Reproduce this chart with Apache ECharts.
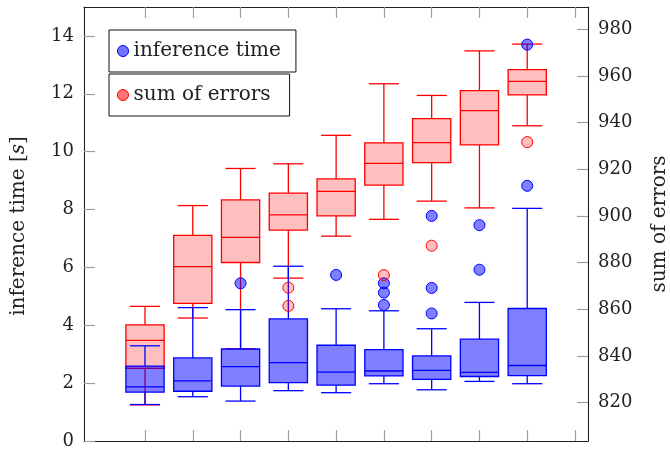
<!DOCTYPE html>
<html>
<head>
<meta charset="utf-8">
<script src="https://cdn.jsdelivr.net/npm/echarts@6/dist/echarts.min.js"></script>
<style>html,body{margin:0;padding:0;background:#fff}#c{width:670px;height:450px}</style>
</head>
<body>
<div id="c"></div>
<script>
// ---- data ----
const positions = [1, 2, 3, 4, 5, 6, 7, 8, 9];
// inference time [s] (left axis)
const timeLow    = [1.26, 1.53, 1.38, 1.74, 1.67, 1.98, 1.77, 2.06, 1.98];
const timeQ1     = [1.69, 1.72, 1.90, 2.02, 1.93, 2.25, 2.13, 2.23, 2.26];
const timeMedian = [1.87, 2.08, 2.57, 2.71, 2.38, 2.42, 2.44, 2.37, 2.61];
const timeQ3     = [2.59, 2.87, 3.18, 4.22, 3.31, 3.16, 2.94, 3.52, 4.58];
const timeHigh   = [3.29, 4.61, 4.54, 6.04, 4.57, 4.50, 3.88, 4.79, 8.04];
const timeOutlierPos = [3, 5, 6, 6, 6, 7, 7, 7, 8, 8, 9, 9];
const timeOutlierVal = [5.45, 5.74, 4.70, 5.13, 5.45, 4.41, 5.29, 7.78, 5.92, 7.46, 8.82, 13.70];
// sum of errors (right axis)
const errLow    = [819.0, 856.2, 843.0, 873.3, 891.3, 898.5, 906.3, 903.4, 938.6];
const errQ1     = [834.6, 862.5, 880.0, 893.9, 900.0, 913.2, 922.8, 930.4, 951.8];
const errMedian = [846.6, 878.2, 890.8, 900.4, 910.5, 922.5, 931.4, 945.1, 957.6];
const errQ3     = [853.3, 891.6, 906.8, 909.7, 915.8, 931.3, 941.7, 953.7, 962.7];
const errHigh   = [861.2, 904.4, 920.3, 922.3, 934.5, 956.6, 951.6, 970.7, 973.6];
const errOutlierPos = [4, 4, 6, 7, 9];
const errOutlierVal = [861.4, 869.2, 874.6, 887.2, 931.6];
// ticks
const xTicks = [1, 2, 3, 4, 5, 6, 7, 8, 9, 10];
const leftTicks = [0, 2, 4, 6, 8, 10, 12, 14];
const rightTicks = [820, 840, 860, 880, 900, 920, 940, 960, 980];

// ---- build ----
const FONT = 'DejaVu Serif';
function boxData(lo, q1, md, q3, hi) {
  return positions.map((p, i) => [p, lo[i], q1[i], md[i], q3[i], hi[i]]);
}
function pairs(ps, vs) { return ps.map((p, i) => [p, vs[i]]); }

function boxRenderer(stroke, fill) {
  return function (params, api) {
    const x = api.value(0);
    const pLo = api.coord([x, api.value(1)]);
    const pQ1 = api.coord([x, api.value(2)]);
    const pMd = api.coord([x, api.value(3)]);
    const pQ3 = api.coord([x, api.value(4)]);
    const pHi = api.coord([x, api.value(5)]);
    const hw = api.size([0.8, 0])[0] / 2;
    const cw = api.size([0.63, 0])[0] / 2;
    const cx = pMd[0];
    const ls = { stroke: stroke, lineWidth: 1.3, fill: null };
    return {
      type: 'group',
      children: [
        { type: 'line', shape: { x1: cx, y1: pQ3[1], x2: cx, y2: pHi[1] }, style: ls },
        { type: 'line', shape: { x1: cx, y1: pQ1[1], x2: cx, y2: pLo[1] }, style: ls },
        { type: 'line', shape: { x1: cx - cw, y1: pHi[1], x2: cx + cw, y2: pHi[1] }, style: ls },
        { type: 'line', shape: { x1: cx - cw, y1: pLo[1], x2: cx + cw, y2: pLo[1] }, style: ls },
        { type: 'rect', shape: { x: cx - hw, y: pQ3[1], width: 2 * hw, height: pQ1[1] - pQ3[1] },
          style: { fill: fill, stroke: stroke, lineWidth: 1.3 } },
        { type: 'line', shape: { x1: cx - hw, y1: pMd[1], x2: cx + hw, y2: pMd[1] }, style: ls }
      ]
    };
  };
}

const tickStyle = { color: '#a0a0a0', width: 1.2 };
const axisLineStyle = { color: '#222', width: 1.1 };
const xAxisBase = {
  type: 'value', min: -0.2767, max: 10.272,
  axisLine: { show: true, onZero: false, lineStyle: axisLineStyle },
  axisTick: { show: true, inside: true, length: 11, lineStyle: tickStyle, customValues: xTicks },
  axisLabel: { show: false },
  splitLine: { show: false }
};

const option = {
  animation: false,
  backgroundColor: '#fff',
  grid: { left: 84, right: 82, top: 7, bottom: 7, containLabel: false },
  xAxis: [
    Object.assign({}, xAxisBase, { position: 'bottom' }),
    Object.assign({}, xAxisBase, { position: 'top' })
  ],
  yAxis: [
    {
      type: 'value', min: 0, max: 15, position: 'left',
      axisLine: { show: true, onZero: false, lineStyle: axisLineStyle },
      axisTick: { show: true, inside: true, length: 11, lineStyle: tickStyle, customValues: leftTicks },
      axisLabel: { customValues: leftTicks, fontFamily: FONT, fontSize: 18, color: '#222', margin: 10 },
      splitLine: { show: false }
    },
    {
      type: 'value', min: 803.5, max: 989.5, position: 'right',
      axisLine: { show: true, onZero: false, lineStyle: axisLineStyle },
      axisTick: { show: true, inside: true, length: 11, lineStyle: tickStyle, customValues: rightTicks },
      axisLabel: { customValues: rightTicks, fontFamily: FONT, fontSize: 18, color: '#222', margin: 10 },
      splitLine: { show: false }
    }
  ],
  legend: [
    {
      data: [{ name: 'inference time', itemStyle: { color: 'rgba(0,0,255,0.55)', borderColor: '#0000ff', borderWidth: 1 } }],
      left: 109, top: 30, icon: 'circle', itemWidth: 11, itemHeight: 11,
      padding: [9, 15, 9, 8], borderColor: '#111', borderWidth: 1, backgroundColor: '#fff',
      selectedMode: false,
      textStyle: { fontFamily: FONT, fontSize: 20, color: '#222', lineHeight: 24 }
    },
    {
      data: [{ name: 'sum of errors', itemStyle: { color: 'rgba(255,0,0,0.55)', borderColor: '#ff0000', borderWidth: 1 } }],
      left: 109, top: 74, icon: 'circle', itemWidth: 11, itemHeight: 11,
      padding: [9, 19, 9, 8], borderColor: '#111', borderWidth: 1, backgroundColor: '#fff',
      selectedMode: false,
      textStyle: { fontFamily: FONT, fontSize: 20, color: '#222', lineHeight: 24 }
    }
  ],
  graphic: [
    {
      type: 'text', x: 19, y: 226, rotation: Math.PI / 2,
      style: {
        text: '{n|inference time [}{i|s}{n|]}',
        rich: {
          n: { fontFamily: FONT, fontSize: 20, fill: '#222' },
          i: { fontFamily: FONT, fontSize: 20, fontStyle: 'italic', fill: '#222' }
        },
        align: 'center', verticalAlign: 'middle'
      }
    },
    {
      type: 'text', x: 660, y: 224, rotation: Math.PI / 2,
      style: { text: 'sum of errors', fontFamily: FONT, fontSize: 20, fill: '#222', align: 'center', verticalAlign: 'middle' }
    }
  ],
  series: [
    {
      name: 'sum of errors', type: 'custom', xAxisIndex: 0, yAxisIndex: 1, z: 2,
      renderItem: boxRenderer('#ff0000', 'rgba(255,0,0,0.25)'),
      encode: { x: 0, y: [1, 2, 3, 4, 5] },
      data: boxData(errLow, errQ1, errMedian, errQ3, errHigh)
    },
    {
      name: 'inference time', type: 'custom', xAxisIndex: 0, yAxisIndex: 0, z: 3,
      renderItem: boxRenderer('#0000ff', 'rgba(0,0,255,0.5)'),
      encode: { x: 0, y: [1, 2, 3, 4, 5] },
      data: boxData(timeLow, timeQ1, timeMedian, timeQ3, timeHigh)
    },
    {
      name: 'inference time', type: 'scatter', xAxisIndex: 0, yAxisIndex: 0, z: 4,
      symbol: 'circle', symbolSize: 11,
      itemStyle: { color: 'rgba(0,0,255,0.5)', borderColor: '#0000ff', borderWidth: 1, opacity: 1 },
      data: pairs(timeOutlierPos, timeOutlierVal)
    },
    {
      name: 'sum of errors', type: 'scatter', xAxisIndex: 0, yAxisIndex: 1, z: 5,
      symbol: 'circle', symbolSize: 11,
      itemStyle: { color: 'rgba(255,0,0,0.25)', borderColor: '#ff0000', borderWidth: 1, opacity: 1 },
      data: pairs(errOutlierPos, errOutlierVal)
    }
  ]
};

const chart = echarts.init(document.getElementById('c'), null, { renderer: 'canvas' });
chart.setOption(option);
</script>
</body>
</html>
